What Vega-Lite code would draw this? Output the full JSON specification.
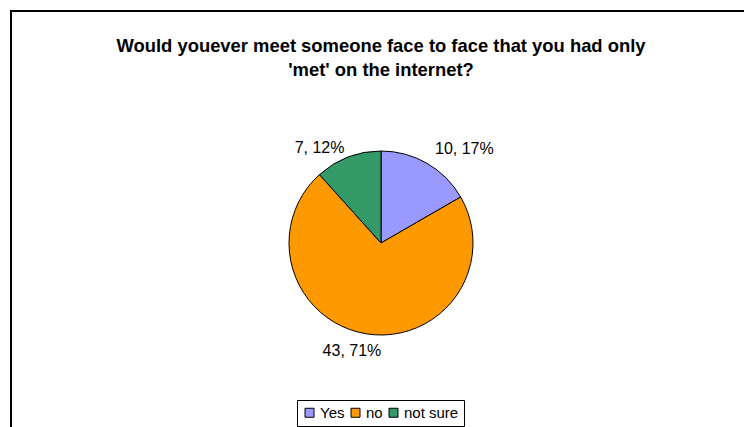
{
  "$schema": "https://vega.github.io/schema/vega-lite/v6.json",
  "width": 740,
  "height": 464,
  "autosize": {"type": "none"},
  "padding": {"left": 11, "top": 11, "right": -7, "bottom": -48},
  "background": "white",
  "view": {"stroke": "black", "strokeWidth": 2},
  "config": {"font": "Liberation Sans"},
  "title": {
    "text": ["Would youever meet someone face to face that you had only", "'met' on the internet?"],
    "fontSize": 18.4,
    "fontWeight": "bold",
    "font": "Liberation Sans",
    "color": "black",
    "anchor": "middle",
    "offset": -68,
    "baseline": "top",
    "lineHeight": 24
  },
  "data": {
    "values": [
      {"answer": "Yes", "count": 10, "label": "10, 17%", "k": 1},
      {"answer": "no", "count": 43, "label": "43, 71%", "k": 2},
      {"answer": "not sure", "count": 7, "label": "7, 12%", "k": 3}
    ]
  },
  "encoding": {
    "theta": {"field": "count", "type": "quantitative", "stack": true},
    "order": {"field": "k", "type": "quantitative"}
  },
  "layer": [
    {
      "mark": {"type": "arc", "radius": 92, "stroke": "black", "strokeWidth": 1},
      "encoding": {
        "color": {
          "field": "answer",
          "type": "nominal",
          "sort": ["Yes", "no", "not sure"],
          "scale": {"domain": ["Yes", "no", "not sure"], "range": ["#9999FF", "#FF9900", "#339966"]},
          "legend": {
            "orient": "none",
            "legendX": 286,
            "legendY": 389,
            "direction": "horizontal",
            "title": null,
            "symbolType": "square",
            "symbolSize": 81,
            "symbolStrokeColor": "black",
            "symbolStrokeWidth": 1,
            "labelFontSize": 15,
            "labelColor": "black",
            "labelFont": "Liberation Sans",
            "labelOffset": 3,
            "columnPadding": 3,
            "strokeColor": "black",
            "fillColor": "white",
            "padding": 5,
            "cornerRadius": 0
          }
        }
      }
    },
    {
      "mark": {"type": "text", "radius": 108, "align": "left", "baseline": "middle", "fontSize": 16, "color": "black"},
      "encoding": {
        "text": {"condition": {"test": "datum.answer === 'Yes'", "field": "label"}, "value": ""}
      }
    },
    {
      "mark": {"type": "text", "radius": 109, "align": "center", "baseline": "middle", "fontSize": 16, "color": "black", "dx": -12},
      "encoding": {
        "text": {"condition": {"test": "datum.answer === 'no'", "field": "label"}, "value": ""}
      }
    },
    {
      "mark": {"type": "text", "radius": 102, "align": "right", "baseline": "middle", "fontSize": 16, "color": "black"},
      "encoding": {
        "text": {"condition": {"test": "datum.answer === 'not sure'", "field": "label"}, "value": ""}
      }
    }
  ]
}
